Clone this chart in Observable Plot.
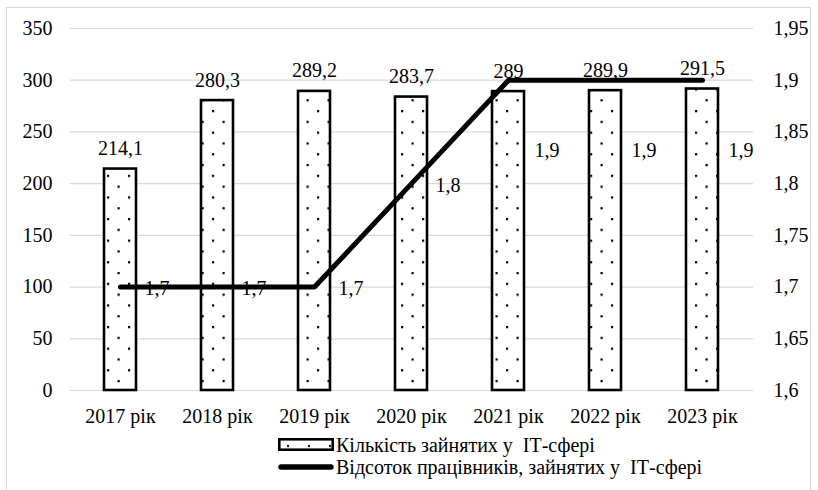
<!DOCTYPE html>
<html>
<head>
<meta charset="utf-8">
<script src="https://cdn.jsdelivr.net/npm/d3@7"></script>
<script src="https://cdn.jsdelivr.net/npm/@observablehq/plot@0.6"></script>
</head>
<body style="margin:0;padding:0;background:#fff;font-family:'Liberation Serif'">
<div style="position:absolute;left:6px;top:7px;width:805px;height:500px;border:1.5px solid #d9d9d9;box-sizing:border-box"></div>
<div id="chart" style="position:absolute;left:0;top:0"></div>
<div id="legend" style="position:absolute;left:278px;top:434px;font-family:'Liberation Serif';font-size:20px;line-height:22px;color:#000"></div>
<script>
const years = ["2017 рік", "2018 рік", "2019 рік", "2020 рік", "2021 рік", "2022 рік", "2023 рік"];
const employed = [214.1, 280.3, 289.2, 283.7, 289, 289.9, 291.5];
const employedLabels = ["214,1", "280,3", "289,2", "283,7", "289", "289,9", "291,5"];
const share = [1.7, 1.7, 1.7, 1.8, 1.9, 1.9, 1.9];
const shareLabels = ["1,7", "1,7", "1,7", "1,8", "1,9", "1,9", "1,9"];
const leftTicks = [0, 50, 100, 150, 200, 250, 300, 350];
const rightTickLabels = ["1,6", "1,65", "1,7", "1,75", "1,8", "1,85", "1,9", "1,95"];
const seriesNames = ["Кількість зайнятих у  ІТ-сфері", "Відсоток працівників, зайнятих у  ІТ-сфері"];

// right axis 1.6..1.95 maps onto left axis 0..350
const shareMin = 1.6, shareMax = 1.95, leftMax = 350;
const toLeft = v => (v - shareMin) / (shareMax - shareMin) * leftMax;

const data = years.map((year, i) => ({
  year, employed: employed[i], eLabel: employedLabels[i],
  share: share[i], shareY: toLeft(share[i]), sLabel: shareLabels[i]
}));

const defs = () => {
  const g = d3.create("svg:defs");
  const p = g.append("pattern").attr("id", "dots").attr("patternUnits", "userSpaceOnUse")
    .attr("width", 21).attr("height", 21.6);
  p.append("rect").attr("width", 21).attr("height", 21.6).attr("fill", "#fff");
  p.append("rect").attr("x", 2).attr("y", 2).attr("width", 2.2).attr("height", 2.2).attr("fill", "#000");
  p.append("rect").attr("x", 12.5).attr("y", 12.8).attr("width", 2.2).attr("height", 2.2).attr("fill", "#000");
  return g.node();
};

const font = "'Liberation Serif'";

const chart = Plot.plot({
  width: 818,
  height: 430,
  marginLeft: 70,
  marginRight: 65,
  marginTop: 28,
  marginBottom: 40,
  style: { fontFamily: font, fontSize: "20px", color: "#000", background: "transparent", overflow: "visible" },
  x: { domain: years, paddingInner: 0.67, paddingOuter: 0.335, label: null },
  y: { domain: [0, leftMax], label: null },
  marks: [
    defs,
    Plot.gridY(leftTicks, { stroke: "#d9d9d9", strokeOpacity: 1, strokeWidth: 1.2 }),
    Plot.axisY(leftTicks, { anchor: "left", tickSize: 0, tickPadding: 18, label: null, fontSize: 20 }),
    Plot.axisY(leftTicks, { anchor: "right", tickSize: 0, tickPadding: 20, label: null, fontSize: 20,
      tickFormat: d => rightTickLabels[leftTicks.indexOf(d)] }),
    Plot.axisX({ tickSize: 0, tickPadding: 18, label: null, fontSize: 20 }),
    Plot.barY(data, { x: "year", y: "employed", fill: "url(#dots)", stroke: "#000", strokeWidth: 2.6 }),
    Plot.text(data, { x: "year", y: "employed", text: "eLabel", dy: -14, lineAnchor: "bottom", fontSize: 20, fill: "#000" }),
    Plot.line(data, { x: "year", y: "shareY", stroke: "#000", strokeWidth: 5, strokeLinejoin: "miter", strokeLinecap: "round" }),
    Plot.text(data.filter(d => d.share < 1.85), { x: "year", y: "shareY", text: "sLabel", dx: 24, dy: 2, textAnchor: "start", fontSize: 20, fill: "#000" }),
    Plot.text(data.filter(d => d.share >= 1.85), { x: "year", y: "shareY", text: "sLabel", dx: 26, dy: 70, textAnchor: "start", fontSize: 20, fill: "#000" })
  ]
});
chart.querySelectorAll("text, g").forEach(t => t.style.fontFamily = "'Liberation Serif'");
document.getElementById("chart").appendChild(chart);

// legend
const legend = document.getElementById("legend");
const sw1 = `<svg width="56" height="14" style="margin-right:2px"><defs><pattern id="dots2" patternUnits="userSpaceOnUse" width="21" height="21.6"><rect width="21" height="21.6" fill="#fff"/><rect x="9" y="7" width="2" height="2" fill="#000"/></pattern></defs><rect x="1.3" y="1.3" width="53.4" height="10.4" fill="url(#dots2)" stroke="#000" stroke-width="2.6"/></svg>`;
const sw2 = `<svg width="56" height="14" style="margin-right:2px"><line x1="3" y1="7" x2="53" y2="7" stroke="#000" stroke-width="5.5" stroke-linecap="round"/></svg>`;
const rowStyle = "display:flex;align-items:center;height:22px;white-space:pre";
legend.innerHTML = `<div style="${rowStyle}">${sw1}<span>${seriesNames[0]}</span></div><div style="${rowStyle}">${sw2}<span>${seriesNames[1]}</span></div>`;
</script>
</body>
</html>
